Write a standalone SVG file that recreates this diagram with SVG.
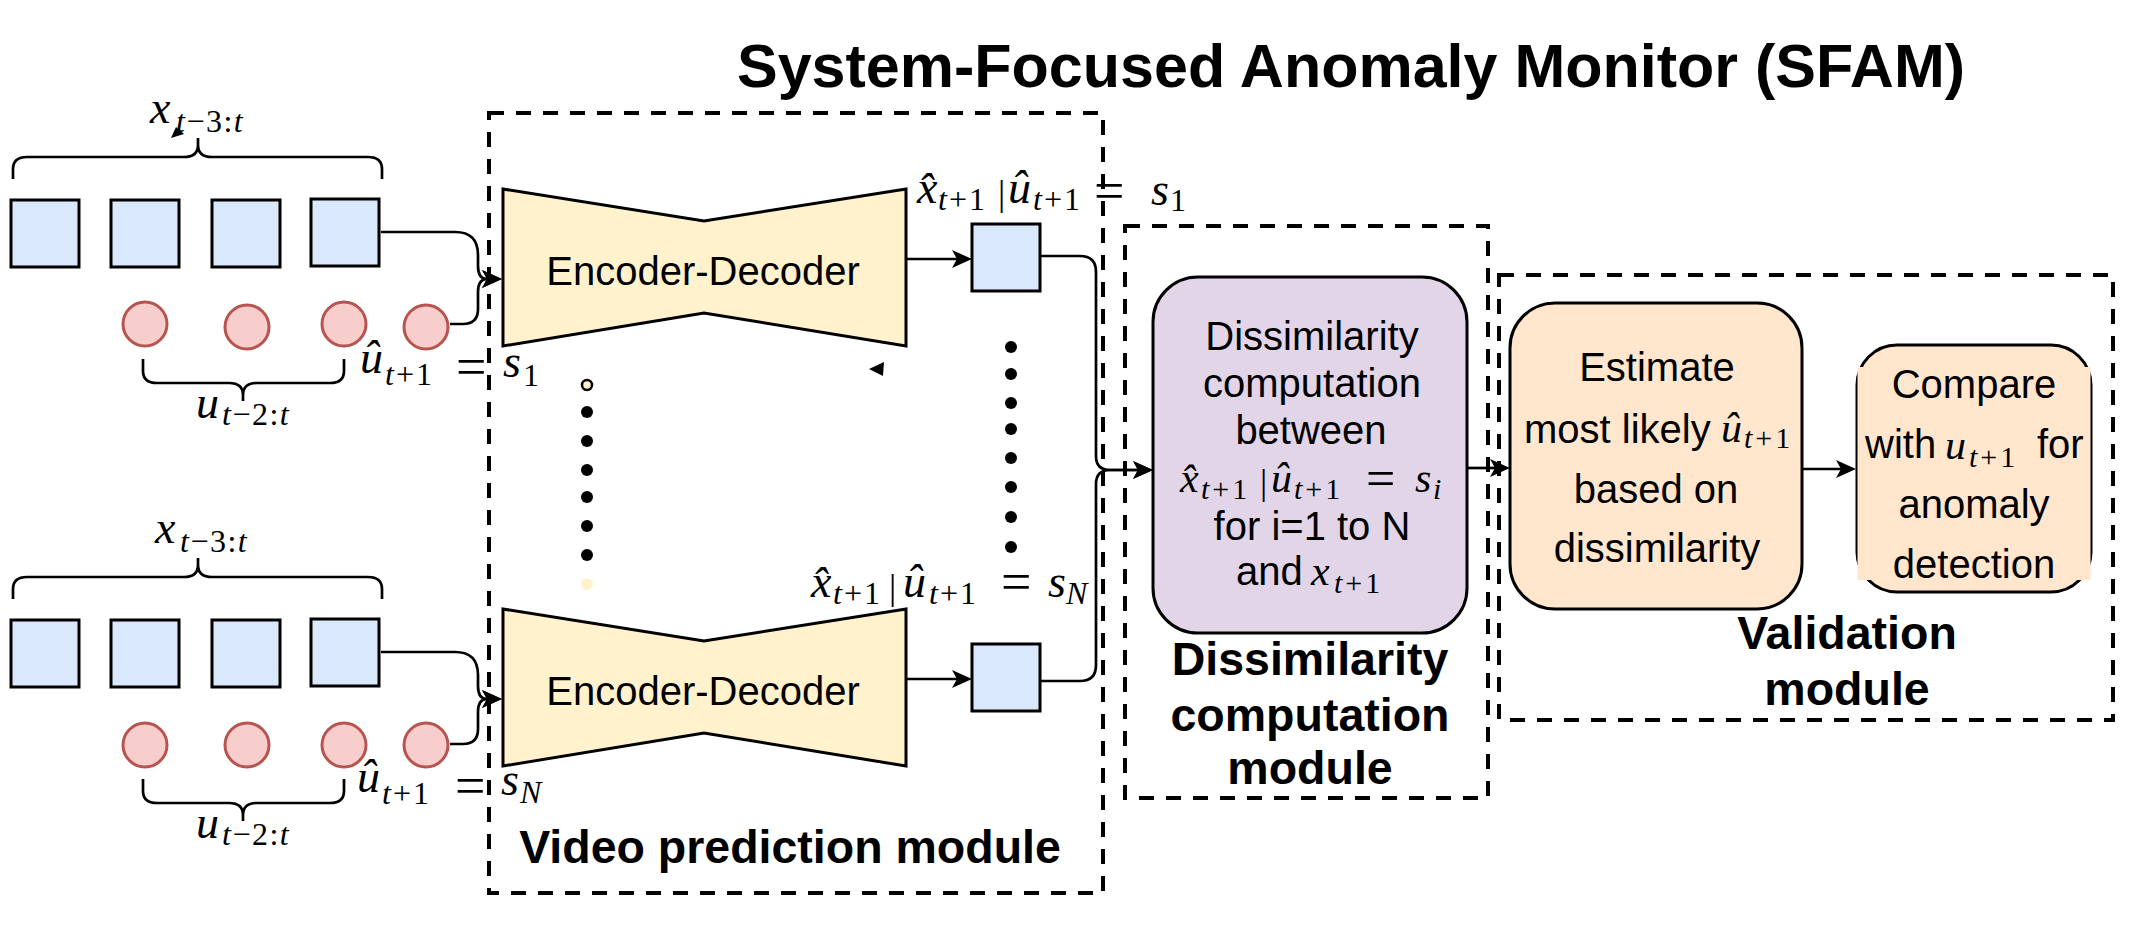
<svg xmlns="http://www.w3.org/2000/svg" width="2154" height="930" viewBox="0 0 2154 930">
<defs>
<style>
.t{font-family:"Liberation Sans",Arial,Helvetica,sans-serif;fill:#000}
.bx{font-size:40px}
.bt{font-size:40px;text-anchor:middle}
.lb{font-size:46.5px;font-weight:bold;text-anchor:middle}
.ti{font-size:61px;font-weight:bold}
.m{font-family:"Liberation Serif","Times New Roman",serif;fill:#000}
.i{font-style:italic}
.f46{font-size:46px}
.f42{font-size:42px}
.f36{font-size:36px}
.s32{font-size:32px;letter-spacing:2px}
.s30{font-size:30px;letter-spacing:3px}
.sx{font-size:32px;letter-spacing:1.5px}
.eq{font-size:54px}
.eq2{font-size:52px}
.dash{fill:none;stroke:#000;stroke-width:4;stroke-dasharray:15 12}
.frame{fill:#dae8fc;stroke:#000;stroke-width:3}
.ctl{fill:#f8cecc;stroke:#b85450;stroke-width:3}
.ed{fill:#fff2cc;stroke:#000;stroke-width:3}
.conn{fill:none;stroke:#000;stroke-width:2.7}
.brace{fill:none;stroke:#000;stroke-width:2.7}
.dot{fill:#000}
.proc{stroke:#000;stroke-width:3}
</style>
<marker id="arr" markerUnits="userSpaceOnUse" markerWidth="20" markerHeight="18" viewBox="0 0 20 18" refX="5" refY="9" orient="auto"><path d="M0,0 L20,9 L0,18 L5,9 Z" fill="#000"/></marker>
</defs>
<rect x="0" y="0" width="2154" height="930" fill="#fff"/>

<g id="title">
<text class="t ti" x="737" y="87">System-Focused Anomaly Monitor (SFAM)</text>
</g>

<!-- module frames -->
<g id="video-prediction-module">
<rect class="dash" x="489" y="113" width="614" height="780"/>
<text class="t lb" x="790" y="863">Video prediction module</text>
</g>
<g id="dissimilarity-module">
<rect class="dash" x="1125" y="226" width="363" height="572"/>
<text class="t lb" x="1310" y="675">Dissimilarity</text>
<text class="t lb" x="1310" y="731">computation</text>
<text class="t lb" x="1310" y="784">module</text>
</g>
<g id="validation-module">
<rect class="dash" x="1499" y="275" width="614" height="445"/>
<text class="t lb" x="1847" y="649">Validation</text>
<text class="t lb" x="1847" y="705">module</text>
</g>

<!-- input sequence 1 -->
<g id="input-1">
<path class="brace" d="M13,179 V169 Q13,157 27,157 H184 Q198,157 198,145 V138 M198,145 Q198,157 212,157 H368 Q382,157 382,169 V179"/>
<text class="m i f46" x="150" y="123">x</text>
<text class="m sx" x="176" y="132"><tspan class="i">t</tspan>−3:<tspan class="i">t</tspan></text>
<rect class="frame" x="11" y="200" width="68" height="67"/>
<rect class="frame" x="111" y="200" width="68" height="67"/>
<rect class="frame" x="212" y="200" width="68" height="67"/>
<rect class="frame" x="311" y="199" width="68" height="67"/>
<circle class="ctl" cx="145" cy="324" r="22"/>
<circle class="ctl" cx="247" cy="327" r="22"/>
<circle class="ctl" cx="344" cy="324" r="22"/>
<circle class="ctl" cx="426" cy="327" r="22"/>
<path class="brace" d="M143,359 V371 Q143,383 157,383 H229 Q243,383 243,395 V401 M243,395 Q243,383 257,383 H330 Q344,383 344,371 V359"/>
<text class="m i f46" x="196" y="418">u</text>
<text class="m sx" x="222" y="425"><tspan class="i">t</tspan>−2:<tspan class="i">t</tspan></text>
<text class="m i f46" x="360" y="373">u&#x302;</text>
<text class="m s32" x="385" y="385"><tspan class="i">t</tspan>+1</text>
<text class="m eq" x="456" y="385">=</text>
<text class="m i f46" x="503" y="377">s</text>
<text class="m s32" x="523" y="386">1</text>
</g>

<!-- input sequence 2 -->
<g id="input-2">
<path class="brace" d="M13,599 V589 Q13,577 27,577 H184 Q198,577 198,565 V558 M198,565 Q198,577 212,577 H368 Q382,577 382,589 V599"/>
<text class="m i f46" x="155" y="543">x</text>
<text class="m sx" x="180" y="552"><tspan class="i">t</tspan>−3:<tspan class="i">t</tspan></text>
<rect class="frame" x="11" y="620" width="68" height="67"/>
<rect class="frame" x="111" y="620" width="68" height="67"/>
<rect class="frame" x="212" y="620" width="68" height="67"/>
<rect class="frame" x="311" y="619" width="68" height="67"/>
<circle class="ctl" cx="145" cy="745" r="22"/>
<circle class="ctl" cx="247" cy="745" r="22"/>
<circle class="ctl" cx="344" cy="745" r="22"/>
<circle class="ctl" cx="426" cy="745" r="22"/>
<path class="brace" d="M143,779 V791 Q143,803 157,803 H229 Q243,803 243,815 V821 M243,815 Q243,803 257,803 H330 Q344,803 344,791 V779"/>
<text class="m i f46" x="196" y="838">u</text>
<text class="m sx" x="222" y="845"><tspan class="i">t</tspan>−2:<tspan class="i">t</tspan></text>
<text class="m i f46" x="357" y="792">u&#x302;</text>
<text class="m s32" x="382" y="804"><tspan class="i">t</tspan>+1</text>
<text class="m eq" x="455" y="804">=</text>
<text class="m i f46" x="501" y="795">s</text>
<text class="m i s32" x="520" y="803">N</text>
</g>

<!-- encoder-decoders -->
<g id="encoder-decoder-1">
<polygon class="ed" points="503,189 704,221 906,189 906,346 704,313 503,346"/>
<text class="t bt" x="703" y="285">Encoder-Decoder</text>
</g>
<g id="encoder-decoder-2">
<polygon class="ed" points="503,609 704,641 906,609 906,766 704,733 503,766"/>
<text class="t bt" x="703" y="705">Encoder-Decoder</text>
</g>

<!-- predicted frames -->
<g id="prediction-1">
<rect class="frame" x="972" y="224" width="68" height="67"/>
<text class="m i f46" x="917" y="203">x&#x302;</text>
<text class="m s32" x="938" y="210"><tspan class="i">t</tspan>+1</text>
<text class="m f36" x="998" y="205">|</text>
<text class="m i f46" x="1008" y="203">u&#x302;</text>
<text class="m s32" x="1033" y="210"><tspan class="i">t</tspan>+1</text>
<text class="m eq" x="1094" y="209">=</text>
<text class="m i f46" x="1151" y="205">s</text>
<text class="m s32" x="1170" y="211">1</text>
</g>
<g id="prediction-2">
<rect class="frame" x="972" y="644" width="68" height="67"/>
<text class="m i f46" x="811" y="597">x&#x302;</text>
<text class="m s32" x="833" y="604"><tspan class="i">t</tspan>+1</text>
<text class="m f36" x="889" y="599">|</text>
<text class="m i f46" x="903" y="597">u&#x302;</text>
<text class="m s32" x="929" y="604"><tspan class="i">t</tspan>+1</text>
<text class="m eq" x="1001" y="600">=</text>
<text class="m i f46" x="1048" y="597">s</text>
<text class="m i s32" x="1066" y="604">N</text>
</g>

<!-- ellipsis dots -->
<g id="ellipsis-left">
<circle cx="587" cy="385" r="5" fill="#fff2cc" stroke="#000" stroke-width="2.5"/>
<circle class="dot" cx="587" cy="412" r="6"/>
<circle class="dot" cx="587" cy="441" r="6"/>
<circle class="dot" cx="587" cy="470" r="6"/>
<circle class="dot" cx="587" cy="497" r="6"/>
<circle class="dot" cx="587" cy="526" r="6"/>
<circle class="dot" cx="587" cy="555" r="6"/>
<circle cx="587" cy="584" r="6" fill="#fff2cc"/>
</g>
<g id="ellipsis-right">
<circle class="dot" cx="1011" cy="347" r="6"/>
<circle class="dot" cx="1011" cy="374" r="6"/>
<circle class="dot" cx="1011" cy="403" r="6"/>
<circle class="dot" cx="1011" cy="429" r="6"/>
<circle class="dot" cx="1011" cy="458" r="6"/>
<circle class="dot" cx="1011" cy="487" r="6"/>
<circle class="dot" cx="1011" cy="517" r="6"/>
<circle class="dot" cx="1011" cy="547" r="6"/>
</g>

<!-- dissimilarity computation -->
<g id="dissimilarity-computation">
<rect class="proc" x="1153" y="277" width="314" height="356" rx="45" ry="45" fill="#e1d5e7"/>
<text class="t bt" x="1312" y="350">Dissimilarity</text>
<text class="t bt" x="1312" y="397">computation</text>
<text class="t bt" x="1311" y="444">between</text>
<text class="m i f42" x="1180" y="492">x&#x302;</text>
<text class="m s30" x="1201" y="499"><tspan class="i">t</tspan>+1</text>
<text class="m f36" x="1260" y="494">|</text>
<text class="m i f42" x="1271" y="492">u&#x302;</text>
<text class="m s30" x="1294" y="499"><tspan class="i">t</tspan>+1</text>
<text class="m eq2" x="1366" y="496">=</text>
<text class="m i f42" x="1415" y="492">s</text>
<text class="m i s30" x="1433" y="499">i</text>
<text class="t bt" x="1312" y="540">for i=1 to N</text>
<text class="t bx" x="1236" y="585">and</text>
<text class="m i f42" x="1311" y="585">x</text>
<text class="m s30" x="1334" y="593"><tspan class="i">t</tspan>+1</text>
</g>

<!-- validation processes -->
<g id="estimate">
<rect class="proc" x="1510" y="303" width="292" height="306" rx="45" ry="45" fill="#ffe6cc"/>
<text class="t bt" x="1657" y="381">Estimate</text>
<text class="t bx" x="1524" y="443">most likely</text>
<text class="m i f42" x="1721" y="442">u&#x302;</text>
<text class="m s30" x="1744" y="448"><tspan class="i">t</tspan>+1</text>
<text class="t bt" x="1656" y="503">based on</text>
<text class="t bt" x="1657" y="562">dissimilarity</text>
</g>
<g id="compare">
<rect class="proc" x="1857" y="345" width="234" height="247" rx="40" ry="40" fill="#ffe6cc"/>
<rect x="1857.5" y="367" width="233" height="213" fill="#ffe6cc"/>
<text class="t bt" x="1974" y="398">Compare</text>
<text class="t bx" x="1865" y="458">with</text>
<text class="m i f42" x="1945" y="459">u</text>
<text class="m s30" x="1969" y="467"><tspan class="i">t</tspan>+1</text>
<text class="t bx" x="2037" y="458">for</text>
<text class="t bt" x="1974" y="518">anomaly</text>
<text class="t bt" x="1974" y="578">detection</text>
</g>

<!-- connectors -->
<g id="connectors">
<path class="conn" marker-end="url(#arr)" d="M381,232 H455 Q478,232 478,255 V266 Q478,279 487,279"/>
<path class="conn" marker-end="url(#arr)" d="M450,324 H463 Q478,324 478,309 V292 Q478,279 487,279"/>
<path class="conn" marker-end="url(#arr)" d="M381,652 H455 Q478,652 478,675 V686 Q478,699 487,699"/>
<path class="conn" marker-end="url(#arr)" d="M450,744 H463 Q478,744 478,729 V712 Q478,699 487,699"/>
<path class="conn" marker-end="url(#arr)" d="M906,259 H957"/>
<path class="conn" marker-end="url(#arr)" d="M906,679 H957"/>
<path class="conn" marker-end="url(#arr)" d="M1041,256 H1080 Q1096,256 1096,272 V456 Q1096,470 1110,470 H1138"/>
<path class="conn" marker-end="url(#arr)" d="M1041,681 H1080 Q1096,681 1096,665 V484 Q1096,470 1110,470 H1138"/>
<path class="conn" marker-end="url(#arr)" d="M1467,468 H1495"/>
<path class="conn" marker-end="url(#arr)" d="M1802,469 H1841"/>
<polygon points="171,138 176,127 184,134" fill="#000"/>
<polygon points="869,369 884,362 883,376" fill="#000"/>
</g>
</svg>
